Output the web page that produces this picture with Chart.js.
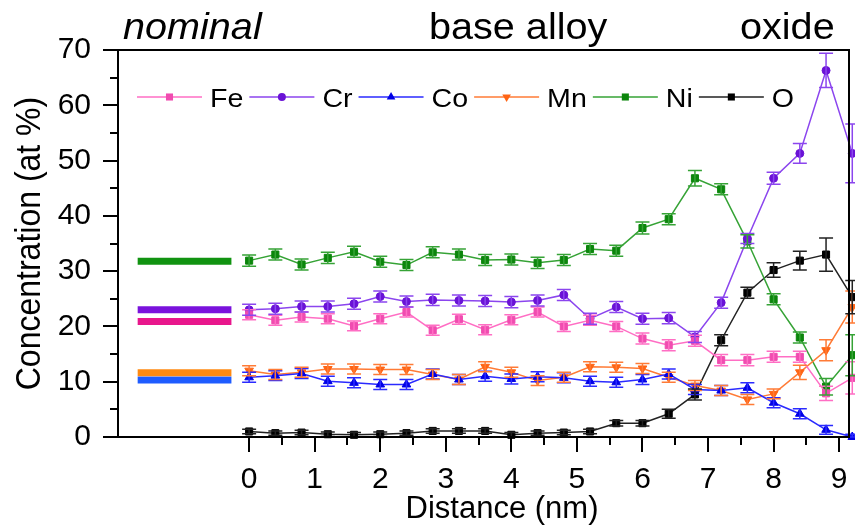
<!DOCTYPE html>
<html>
<head>
<meta charset="utf-8">
<script src="https://cdn.jsdelivr.net/npm/chart.js@4.4.0/dist/chart.umd.min.js"></script>
<style>
  html, body { margin: 0; padding: 0; background: #fff; }
  #profile { display: block; }
</style>
</head>
<body>
<canvas id="profile" width="855" height="527"></canvas>
<script>
// Depth profile: distance along the line (nm)
const distance = [0, 0.4, 0.8, 1.2, 1.6, 2.0, 2.4, 2.8, 3.2, 3.6, 4.0, 4.4,
                  4.8, 5.2, 5.6, 6.0, 6.4, 6.8, 7.2, 7.6, 8.0, 8.4, 8.8, 9.2];

// Concentrations (at %) and their error bars
const feValues = [22.1, 21.1, 21.7, 21.4, 20.1, 21.4, 22.6, 19.3, 21.3, 19.4, 21.2, 22.6,
                  20.0, 21.1, 20.0, 17.8, 16.6, 17.4, 13.9, 13.9, 14.5, 14.5, 7.9, 10.7];
const feErrors = [0.9, 0.9, 0.9, 0.9, 0.9, 0.9, 0.9, 0.9, 0.9, 0.9, 0.9, 0.9,
                  0.9, 0.9, 0.9, 1.0, 1.0, 1.0, 1.0, 1.0, 1.0, 1.0, 1.3, 2.9];

const crValues = [23.0, 23.2, 23.6, 23.6, 24.1, 25.4, 24.5, 24.8, 24.7, 24.6, 24.4, 24.7,
                  25.7, 21.4, 23.5, 21.4, 21.5, 18.1, 24.3, 35.9, 46.8, 51.3, 66.3, 51.3];
const crErrors = [1.0, 1.0, 1.0, 1.0, 1.0, 1.0, 1.0, 1.0, 1.0, 1.0, 1.0, 1.0,
                  1.0, 1.0, 1.0, 1.0, 1.0, 1.0, 1.0, 0.9, 1.1, 1.8, 3.1, 5.3];

const coValues = [10.8, 11.1, 11.5, 10.1, 9.8, 9.5, 9.5, 11.4, 10.4, 11.0, 10.5, 10.9,
                  10.7, 10.1, 9.9, 10.4, 11.4, 8.6, 8.4, 8.9, 6.2, 4.2, 1.3, 0.0];
const coErrors = [0.9, 0.9, 0.9, 0.9, 0.9, 0.9, 0.9, 0.9, 0.9, 0.9, 0.9, 0.9,
                  0.9, 0.9, 0.9, 0.9, 0.9, 0.9, 0.9, 0.9, 0.9, 0.9, 0.8, 0.5];

const mnValues = [12.0, 11.3, 11.7, 12.3, 12.3, 12.2, 12.2, 11.3, 10.4, 12.7, 11.7, 10.2,
                  10.8, 12.7, 12.6, 12.4, 10.8, 9.3, 8.4, 6.8, 7.8, 11.7, 15.7, 23.5];
const mnErrors = [0.9, 0.9, 0.9, 0.9, 0.9, 0.9, 0.9, 0.9, 0.9, 0.9, 0.9, 0.9,
                  0.9, 0.9, 0.9, 0.9, 0.9, 0.9, 0.9, 0.9, 0.9, 1.3, 1.9, 2.9];

const niValues = [31.9, 33.0, 31.2, 32.4, 33.5, 31.7, 31.1, 33.4, 33.0, 32.0, 32.1, 31.5,
                  32.0, 34.0, 33.7, 37.8, 39.4, 46.8, 44.8, 35.4, 24.9, 18.0, 9.1, 14.8];
const niErrors = [1.0, 1.0, 1.0, 1.0, 1.0, 1.0, 1.0, 1.0, 1.0, 1.0, 1.0, 1.0,
                  1.0, 1.0, 1.0, 1.1, 1.0, 1.4, 1.0, 1.2, 1.0, 1.0, 1.5, 3.7];

const oValues = [1.0, 0.7, 0.8, 0.5, 0.4, 0.5, 0.7, 1.1, 1.1, 1.1, 0.4, 0.7,
                 0.8, 1.0, 2.5, 2.5, 4.2, 7.7, 17.5, 26.1, 30.2, 31.9, 33.0, 25.3];
const oErrors = [0.4, 0.4, 0.4, 0.4, 0.4, 0.4, 0.4, 0.4, 0.4, 0.4, 0.4, 0.4,
                 0.4, 0.4, 0.5, 0.5, 0.8, 1.0, 1.0, 1.0, 1.3, 1.7, 3.0, 3.0];

// Nominal composition of the alloy, drawn as flat bars left of the profile
const nominalSpan = [-1.7, -0.27];
const nominalElements = ['Ni', 'Cr', 'Fe', 'Mn', 'Co'];
const nominalValues = [31.8, 23.0, 20.9, 11.6, 10.3];

const FONT = '"Liberation Sans", Arial, Helvetica, sans-serif';
const STRETCH = 1.1;

const series = [
  { label: 'Fe', values: feValues, errors: feErrors, line: '#ff6ec4', mark: '#f04cb0', style: 'rect', radius: 5, rotation: 0 },
  { label: 'Cr', values: crValues, errors: crErrors, line: '#8b45ee', mark: '#6a12d6', style: 'circle', radius: 4, rotation: 0 },
  { label: 'Co', values: coValues, errors: coErrors, line: '#2a2aff', mark: '#0000e6', style: 'triangle', radius: 5, rotation: 0 },
  { label: 'Mn', values: mnValues, errors: mnErrors, line: '#ff7b36', mark: '#ff6414', style: 'triangle', radius: 5, rotation: 180 },
  { label: 'Ni', values: niValues, errors: niErrors, line: '#36a336', mark: '#0c860c', style: 'rect', radius: 5, rotation: 0 },
  { label: 'O',  values: oValues,  errors: oErrors,  line: '#222222', mark: '#000000', style: 'rect', radius: 5, rotation: 0 }
];

const nominalColors = { Ni: '#119311', Cr: '#7a12dc', Fe: '#e8168c', Mn: '#ff8a12', Co: '#1f5cff' };

const datasets = [];
nominalElements.forEach((el, i) => {
  datasets.push({
    label: 'nominal ' + el,
    data: nominalSpan.map(x => ({ x: x, y: nominalValues[i] })),
    borderColor: nominalColors[el],
    borderWidth: 7,
    borderCapStyle: 'butt',
    pointRadius: 0
  });
});
series.forEach(s => {
  datasets.push({
    label: s.label,
    data: distance.map((x, i) => ({ x: x, y: s.values[i] })),
    errors: s.errors,
    borderColor: s.line,
    borderWidth: 1.5,
    pointStyle: s.style,
    pointRadius: s.radius,
    pointRotation: s.rotation,
    pointBackgroundColor: s.mark,
    pointBorderColor: s.mark,
    pointBorderWidth: 1,
    clip: false
  });
});

// vertical error bars with caps, in the series colour
const errorBars = {
  id: 'errorBars',
  afterDatasetsDraw(chart) {
    const { ctx } = chart;
    const yScale = chart.scales.y;
    chart.data.datasets.forEach((ds, di) => {
      if (!ds.errors) return;
      const meta = chart.getDatasetMeta(di);
      ctx.save();
      ctx.strokeStyle = ds.borderColor;
      ctx.lineWidth = 1.5;
      meta.data.forEach((pt, i) => {
        const v = ds.data[i].y, e = ds.errors[i];
        const top = yScale.getPixelForValue(v + e);
        const bot = yScale.getPixelForValue(Math.max(v - e, 0));
        ctx.beginPath();
        ctx.moveTo(pt.x, top); ctx.lineTo(pt.x, bot);
        ctx.moveTo(pt.x - 7, top); ctx.lineTo(pt.x + 7, top);
        ctx.moveTo(pt.x - 7, bot); ctx.lineTo(pt.x + 7, bot);
        ctx.stroke();
      });
      ctx.restore();
    });
  }
};

function drawMarker(ctx, style, x, y, r, rotation, color) {
  ctx.save();
  ctx.translate(x, y);
  ctx.rotate(rotation * Math.PI / 180);
  ctx.fillStyle = color;
  ctx.beginPath();
  if (style === 'circle') {
    ctx.arc(0, 0, r, 0, Math.PI * 2);
  } else if (style === 'triangle') {
    for (let k = 0; k < 3; k++) {
      const a = -Math.PI / 2 + k * 2 * Math.PI / 3;
      ctx.lineTo(Math.cos(a) * r, Math.sin(a) * r);
    }
    ctx.closePath();
  } else {
    const h = r * Math.SQRT1_2;
    ctx.rect(-h, -h, 2 * h, 2 * h);
  }
  ctx.fill();
  ctx.restore();
}

function wideText(ctx, text, x, y, font, align) {
  ctx.save();
  ctx.translate(x, y);
  ctx.scale(STRETCH, 1);
  ctx.font = font;
  ctx.textAlign = align || 'left';
  ctx.textBaseline = 'alphabetic';
  ctx.fillStyle = '#000';
  ctx.fillText(text, 0, 0);
  ctx.restore();
}

// frame, tick marks, region labels, legend and axis titles
const decorations = {
  id: 'decorations',
  afterDraw(chart) {
    const { ctx, chartArea: a } = chart;
    const xs = chart.scales.x, ys = chart.scales.y;
    ctx.save();
    ctx.strokeStyle = '#000';
    ctx.lineWidth = 2;
    ctx.strokeRect(a.left, a.top, a.right - a.left, a.bottom - a.top);

    ctx.beginPath();
    for (let v = 0; v <= 70; v += 5) {
      const py = Math.round(ys.getPixelForValue(v));
      const len = v % 10 === 0 ? 15 : 8;
      ctx.moveTo(a.left - len, py); ctx.lineTo(a.left, py);
    }
    for (let v = 0; v <= 9; v += 0.5) {
      const px = Math.round(xs.getPixelForValue(v));
      const len = v % 1 === 0 ? 15 : 8;
      ctx.moveTo(px, a.bottom); ctx.lineTo(px, a.bottom + len);
    }
    ctx.stroke();
    ctx.restore();

    // region labels above the frame
    wideText(ctx, 'nominal', 123, 39, 'italic 36px ' + FONT);
    wideText(ctx, 'base alloy', 429, 39, '36px ' + FONT);
    wideText(ctx, 'oxide', 740, 39, '36px ' + FONT);

    // legend row inside the plot
    const legendFont = '26px ' + FONT;
    let lx = 137;
    const ly = 97;
    series.forEach(s => {
      ctx.save();
      ctx.strokeStyle = s.line;
      ctx.lineWidth = 1.5;
      ctx.beginPath();
      ctx.moveTo(lx, ly); ctx.lineTo(lx + 65, ly);
      ctx.stroke();
      ctx.restore();
      drawMarker(ctx, s.style, lx + 32.5, ly, s.radius, s.rotation, s.mark);
      lx += 65 + 8;
      wideText(ctx, s.label, lx, ly + 9.5, legendFont);
      ctx.save();
      ctx.font = legendFont;
      lx += ctx.measureText(s.label).width * STRETCH + 6;
      ctx.restore();
    });

    // axis titles
    ctx.save();
    ctx.fillStyle = '#000';
    ctx.translate(40, (a.top + a.bottom) / 2);
    ctx.scale(STRETCH, 1);
    ctx.rotate(-Math.PI / 2);
    ctx.font = '32px ' + FONT;
    ctx.textAlign = 'center';
    ctx.textBaseline = 'alphabetic';
    ctx.fillText('Concentration (at %)', 0, 0);
    ctx.restore();

    ctx.save();
    ctx.fillStyle = '#000';
    ctx.font = '31px ' + FONT;
    ctx.textAlign = 'center';
    ctx.textBaseline = 'alphabetic';
    ctx.fillText('Distance (nm)', 502, 518);
    ctx.restore();
  }
};

new Chart(document.getElementById('profile'), {
  type: 'line',
  data: { datasets: datasets },
  options: {
    responsive: false,
    animation: false,
    devicePixelRatio: 1,
    layout: { padding: { top: 50, right: 3, left: 0, bottom: 0 } },
    plugins: {
      legend: { display: false },
      tooltip: { enabled: false },
      title: { display: false }
    },
    elements: { line: { tension: 0 } },
    scales: {
      x: {
        type: 'linear',
        min: -2,
        max: 9.15,
        grid: { display: false, drawTicks: false },
        border: { display: false },
        ticks: {
          stepSize: 1,
          includeBounds: false,
          autoSkip: false,
          maxRotation: 0,
          padding: 25,
          color: '#000',
          font: { family: FONT, size: 30 },
          callback: v => (v >= 0 && Number.isInteger(v)) ? String(v) : ''
        },
        afterFit: s => {
          s.height = 90;
          s.paddingLeft = 0;
          s.paddingRight = 0;
        }
      },
      y: {
        min: 0,
        max: 70,
        grid: { display: false, drawTicks: false },
        border: { display: false },
        ticks: {
          stepSize: 10,
          padding: 27,
          color: '#000',
          font: { family: FONT, size: 30 }
        },
        afterFit: s => {
          s.width = 118;
          s.paddingTop = 0;
          s.paddingBottom = 0;
        }
      }
    }
  },
  plugins: [errorBars, decorations]
});
</script>
</body>
</html>
